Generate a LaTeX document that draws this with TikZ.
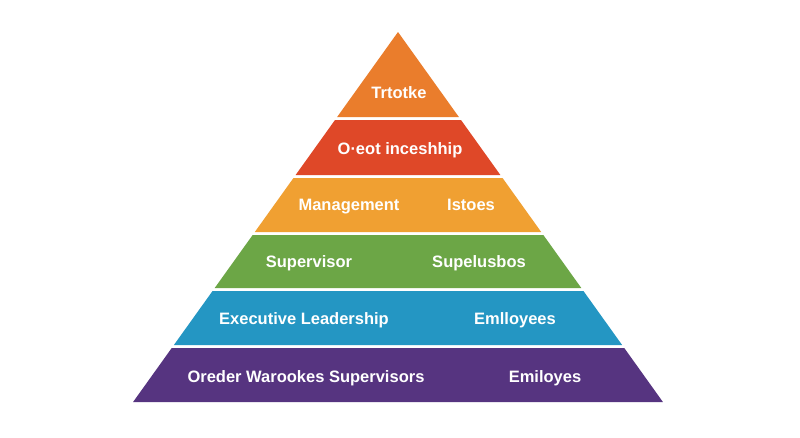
\documentclass[tikz,border=0pt]{standalone}
\usepackage{fontspec}
\setmainfont{Liberation Sans}
\definecolor{tierTop}{RGB}{234,125,44}
\definecolor{tierRed}{RGB}{223,72,40}
\definecolor{tierGold}{RGB}{240,160,50}
\definecolor{tierGreen}{RGB}{108,166,70}
\definecolor{tierBlue}{RGB}{36,150,195}
\definecolor{tierPurple}{RGB}{86,52,128}

\begin{document}
\begin{tikzpicture}[x=1pt,y=-1pt,
	tierlbl/.style={text=white,inner sep=0pt,anchor=base,
		font=\fontsize{16.5}{18}\selectfont\bfseries}]
	\useasboundingbox (0,0) rectangle (800,437);
	\fill[white] (0,0) rectangle (800,437);
	
	% bands of the pyramid, top to bottom
	\foreach \t/\b/\c in
	{32/117/tierTop, 120/175/tierRed, 178/232/tierGold,
	 235/288/tierGreen, 291/345/tierBlue, 348/402/tierPurple}{
		\pgfmathsetmacro\tl{398-0.716*(\t-32)}
		\pgfmathsetmacro\tr{398+0.716*(\t-32)}
		\pgfmathsetmacro\bl{398-0.716*(\b-32)}
		\pgfmathsetmacro\br{398+0.716*(\b-32)}
		\fill[\c] (\tl,\t) -- (\tr,\t) -- (\br,\b) -- (\bl,\b) -- cycle;
	}
	
	% labels
	\node[tierlbl] (top) at (399,98) {Trtotke};
	\node[tierlbl] (red) at (400,154) {O·eot inceshhip};
	\node[tierlbl] (goldL) at (349,210) {Management};
	\node[tierlbl] (goldR) at (471,210) {Istoes};
	\node[tierlbl] (greenL) at (309,267) {Supervisor};
	\node[tierlbl] (greenR) at (479,267) {Supelusbos};
	\node[tierlbl] (blueL) at (304,324) {Executive Leadership};
	\node[tierlbl] (blueR) at (515,324) {Emlloyees};
	\node[tierlbl] (purpleL) at (306,382) {Oreder Warookes Supervisors};
	\node[tierlbl] (purpleR) at (545,382) {Emiloyes};
\end{tikzpicture}
\end{document}
